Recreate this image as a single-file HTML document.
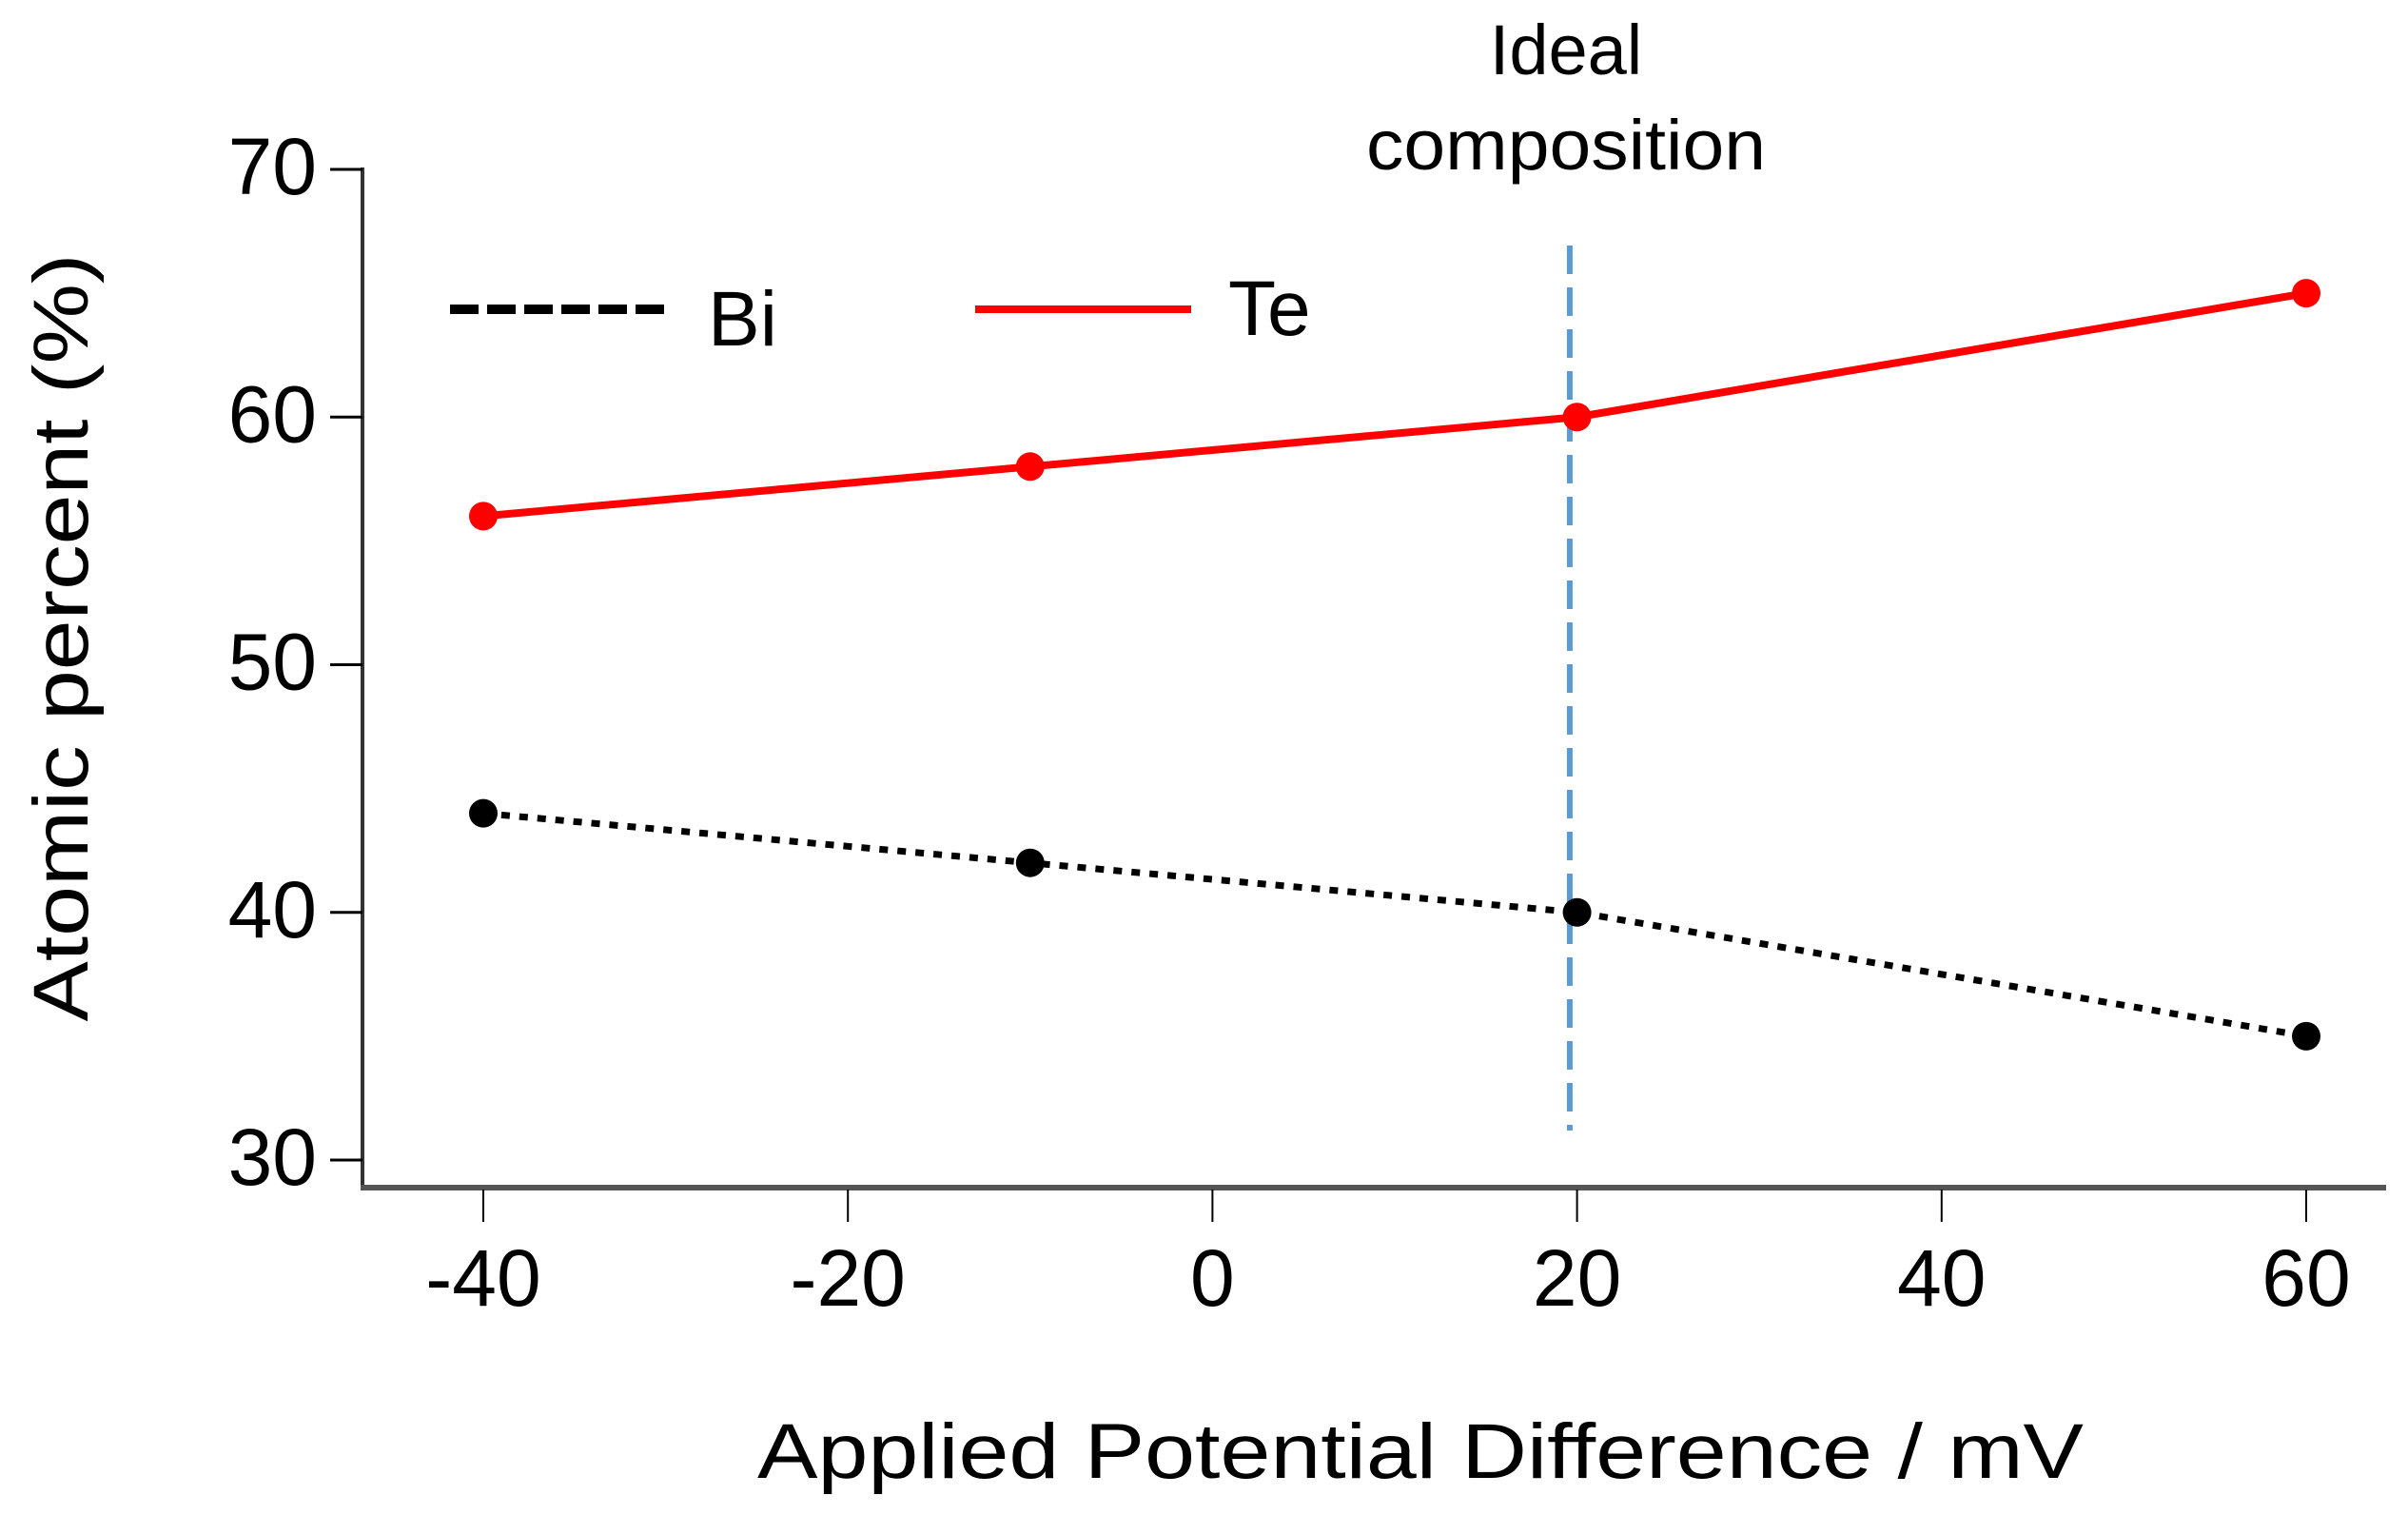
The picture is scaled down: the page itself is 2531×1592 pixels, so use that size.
<!DOCTYPE html>
<html><head><meta charset="utf-8"><style>
html,body{margin:0;padding:0;background:#fff;}
svg{display:block;}
text{font-family:"Liberation Sans",sans-serif;fill:#000;}
</style></head><body>
<svg id="chart" width="2531" height="1592" viewBox="0 0 2531 1592">
<g id="axes"></g>
<g id="marks"></g>
</svg>
<script>
const xValues = [-40, -10, 20, 60];
const teValues = [56, 58, 60, 65];
const biValues = [44, 42, 40, 35];
const xTicks = [-40, -20, 0, 20, 40, 60];
const yTicks = [30, 40, 50, 60, 70];
const idealX = 19.6;

const NS = "http://www.w3.org/2000/svg";
function X(v){ return 508 + (v + 40) * (2424 - 508) / 100; }
function Y(v){ return 1219 - (v - 30) * (1219 - 178) / 40; }
function mk(tag, attrs, parent){ const e = document.createElementNS(NS, tag); for (const k in attrs) e.setAttribute(k, attrs[k]); parent.appendChild(e); return e; }
const axes = document.getElementById('axes');
const marks = document.getElementById('marks');

let e;
e = mk('line', {x1:381, y1:176, x2:381, y2:1250, stroke:'#333', 'stroke-width':4}, axes);


e = mk('line', {x1:379, y1:1248, x2:2508, y2:1248, stroke:'#555', 'stroke-width':6}, axes);



yTicks.forEach(v => {
  const t = mk('line', {x1:347, y1:Y(v), x2:381, y2:Y(v), stroke:'#000', 'stroke-width':3}, axes);
  
  
  const l = mk('text', {x:333, y:Y(v)+26, 'font-size':84, 'text-anchor':'end'}, axes);
  l.textContent = v;
  
  
});
xTicks.forEach(v => {
  const t = mk('line', {x1:X(v), y1:1250, x2:X(v), y2:1284, stroke:'#000', 'stroke-width':2}, axes);
  
  
  const l = mk('text', {x:X(v), y:1372, 'font-size':84, 'text-anchor':'middle'}, axes);
  l.textContent = v;
  
  
});

e = mk('text', {x:1493, y:1553, 'font-size':82, 'text-anchor':'middle', textLength:1394, lengthAdjust:'spacingAndGlyphs'}, axes);
e.textContent = 'Applied Potential Difference / mV';


e = mk('text', {x:0, y:0, 'font-size':82, 'text-anchor':'middle', textLength:807, lengthAdjust:'spacingAndGlyphs', transform:'translate(92,670) rotate(-90)'}, axes);
e.textContent = 'Atomic percent (%)';



e = mk('line', {x1:X(idealX), y1:258, x2:X(idealX), y2:1188, stroke:'#5b9bd5', 'stroke-width':6, 'stroke-dasharray':'30 14'}, marks);


e = mk('text', {x:1646, y:78, 'font-size':74, 'text-anchor':'middle', fill:'#222'}, marks);
e.textContent = 'Ideal';


e = mk('text', {x:1646, y:178, 'font-size':74, 'text-anchor':'middle', fill:'#222', textLength:420, lengthAdjust:'spacingAndGlyphs'}, marks);
e.textContent = 'composition';



const tePts = xValues.map((x,i) => X(x)+','+Y(teValues[i])).join(' ');
const biPts = xValues.map((x,i) => X(x)+','+Y(biValues[i])).join(' ');
e = mk('polyline', {points:biPts, fill:'none', stroke:'#000', 'stroke-width':7, 'stroke-dasharray':'9 10'}, marks);


e = mk('polyline', {points:tePts, fill:'none', stroke:'#ff0000', 'stroke-width':8}, marks);


xValues.forEach((x,i) => {
  const a = mk('circle', {cx:X(x), cy:Y(biValues[i]), r:15, fill:'#000'}, marks);
  
  
  const b = mk('circle', {cx:X(x), cy:Y(teValues[i]), r:15, fill:'#ff0000'}, marks);
  
  
});

e = mk('line', {x1:473, y1:325, x2:703, y2:325, stroke:'#000', 'stroke-width':10, 'stroke-dasharray':'30 9'}, marks);


e = mk('text', {x:744, y:363, 'font-size':82}, marks);
e.textContent = 'Bi';


e = mk('line', {x1:1025, y1:325, x2:1252, y2:325, stroke:'#ff0000', 'stroke-width':8}, marks);


e = mk('text', {x:1291, y:352, 'font-size':82}, marks);
e.textContent = 'Te';


</script>
</body></html>
